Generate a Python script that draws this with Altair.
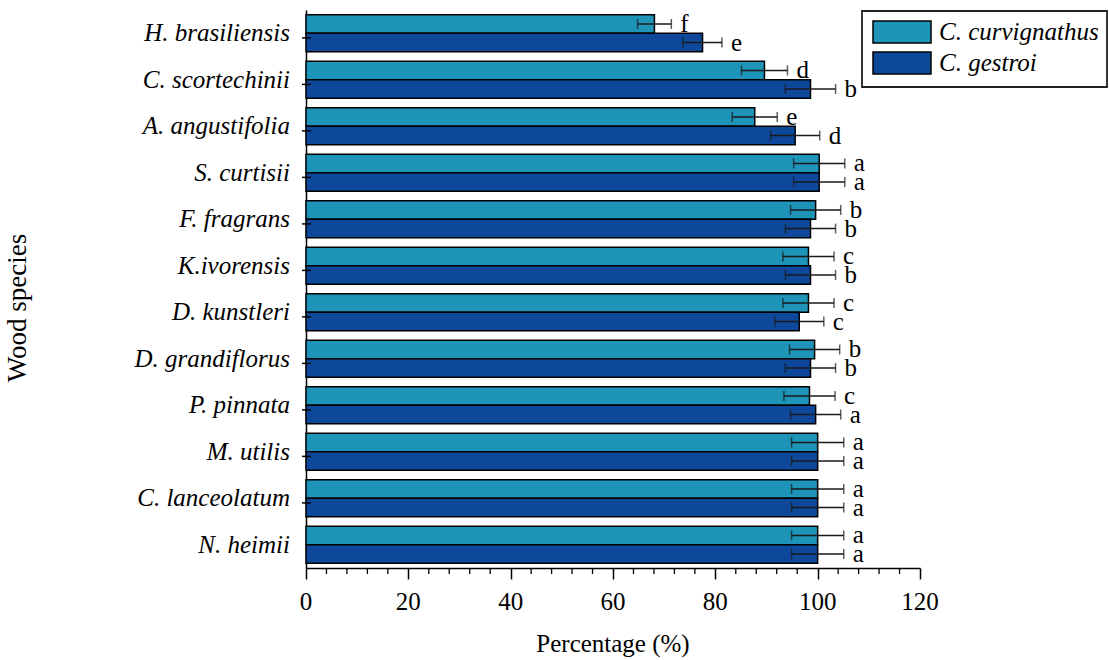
import altair as alt
import pandas as pd

# Wood species (top to bottom) and the two termite species tested
species = ["H. brasiliensis", "C. scortechinii", "A. angustifolia", "S. curtisii",
           "F. fragrans", "K.ivorensis", "D. kunstleri", "D. grandiflorus",
           "P. pinnata", "M. utilis", "C. lanceolatum", "N. heimii"]
series = ["C. curvignathus", "C. gestroi"]

# Percentage values, standard errors and significance letters per series
curv_values = [68.1, 89.6, 87.7, 100.3, 99.6, 98.2, 98.2, 99.4, 98.4, 100.0, 100.0, 100.0]
gestroi_values = [77.5, 98.6, 95.6, 100.3, 98.6, 98.6, 96.4, 98.6, 99.6, 100.0, 100.0, 100.0]
curv_err = [3.3, 4.5, 4.4, 5.0, 4.9, 5.0, 5.0, 4.9, 5.0, 5.1, 5.1, 5.1]
gestroi_err = [3.8, 4.9, 4.8, 5.0, 4.9, 4.9, 4.8, 4.9, 4.9, 5.1, 5.1, 5.1]
curv_letters = ["f", "d", "e", "a", "b", "c", "c", "b", "c", "a", "a", "a"]
gestroi_letters = ["e", "b", "d", "a", "b", "b", "c", "b", "a", "a", "a", "a"]

colors = ["#1e94b8", "#0e489b"]
x_major = [0, 20, 40, 60, 80, 100, 120]
x_minor = [4, 8, 12, 16, 24, 28, 32, 36, 44, 48, 52, 56, 64, 68, 72, 76,
           84, 88, 92, 96, 104, 108, 112, 116]

FONT = "Liberation Serif"
W, H = 614, 558
step = H / len(species)

rows = []
for name, vals, errs, lets in [(series[0], curv_values, curv_err, curv_letters),
                               (series[1], gestroi_values, gestroi_err, gestroi_letters)]:
    for sp, v, e, l in zip(species, vals, errs, lets):
        rows.append({"species": sp, "series": name, "value": v,
                     "lo": v - e, "hi": v + e, "letter": l})
df = pd.DataFrame(rows)

x_scale = alt.Scale(domain=[0, 120], nice=False)
x_axis = alt.Axis(values=x_major, title=None, labels=False, grid=False,
                  tickSize=11, tickWidth=1.5, tickColor="black",
                  domainColor="black", domainWidth=1.5)


def xq(field):
    return alt.X(f"{field}:Q", scale=x_scale, axis=x_axis, title=None)


y_enc = alt.Y("species:N", sort=species,
              scale=alt.Scale(paddingInner=0.2, paddingOuter=0.1),
              axis=alt.Axis(title=None, labels=False, ticks=False, grid=False,
                            domainColor="black", domainWidth=1.5))
y_off = alt.YOffset("series:N", sort=series, scale=alt.Scale(paddingInner=0, paddingOuter=0))

base = alt.Chart(df)

bars = base.mark_bar(stroke="black", strokeWidth=1.5).encode(
    x=xq("value"),
    y=y_enc,
    yOffset=y_off,
    color=alt.Color("series:N", sort=series,
                    scale=alt.Scale(domain=series, range=colors), legend=None),
)

# error bars with caps at both ends
err = base.mark_rule(color="#1a1a1a", strokeWidth=1.5).encode(
    x=xq("lo"), x2="hi:Q", y=y_enc, yOffset=y_off)
cap_lo = base.mark_tick(color="#1a1a1a", size=10, thickness=1.5).encode(
    x=xq("lo"), y=y_enc, yOffset=y_off)
cap_hi = base.mark_tick(color="#1a1a1a", size=10, thickness=1.5).encode(
    x=xq("hi"), y=y_enc, yOffset=y_off)

# significance letters
letters = base.mark_text(align="left", baseline="middle", dx=9, font=FONT,
                         fontSize=25, color="black").encode(
    x=xq("hi"), y=y_enc, yOffset=y_off, text="letter:N")

# category axis: tick marks at band boundaries and italic species names
sp_df = pd.DataFrame({"species": species})
y_ticks = alt.Chart(sp_df).mark_rule(color="black", strokeWidth=1.5).encode(
    y=y_enc, yOffset=alt.value(-step / 2), x=alt.value(-4), x2=alt.value(5))
y_labels = alt.Chart(sp_df).mark_text(
    align="right", baseline="middle", font=FONT, fontStyle="italic",
    fontSize=25, color="black").encode(
    y=y_enc, x=alt.value(-16), text="species:N")

# percentage axis: minor ticks, tick labels and titles
x_minor_ticks = alt.Chart(pd.DataFrame({"value": x_minor})).mark_rule(
    color="black", strokeWidth=1.3).encode(
    x=xq("value"), y=alt.value(H), y2=alt.value(H + 6))
x_labels = alt.Chart(pd.DataFrame({"value": x_major,
                                   "label": [str(v) for v in x_major]})).mark_text(
    align="center", baseline="alphabetic", font=FONT, fontSize=25, color="black").encode(
    x=xq("value"), y=alt.value(H + 42), text="label:N")

one = pd.DataFrame({"k": [0]})
x_title = alt.Chart(one).mark_text(
    align="center", baseline="alphabetic", font=FONT, fontSize=25, color="black",
    text="Percentage (%)").encode(x=alt.value(W / 2), y=alt.value(H + 84))
y_title = alt.Chart(one).mark_text(
    align="center", baseline="middle", font=FONT, fontSize=27, color="black",
    angle=270, text="Wood species").encode(x=alt.value(-288), y=alt.value(298))

# legend box with one swatch and label per series
legend_layers = [
    alt.Chart(one).mark_rect(fill="white", stroke="#222222", strokeWidth=1.8).encode(
        x=alt.value(556), x2=alt.value(801), y=alt.value(1), y2=alt.value(77))
]
for i, (name, col) in enumerate(zip(series, colors)):
    top = 11 + 31 * i
    legend_layers.append(
        alt.Chart(one).mark_rect(fill=col, stroke="black", strokeWidth=1.5).encode(
            x=alt.value(567), x2=alt.value(625), y=alt.value(top), y2=alt.value(top + 22)))
    legend_layers.append(
        alt.Chart(one).mark_text(align="left", baseline="middle", font=FONT,
                                 fontStyle="italic", fontSize=25, color="black",
                                 text=name).encode(
            x=alt.value(633), y=alt.value(top + 11)))

chart = alt.layer(bars, err, cap_lo, cap_hi, letters, y_ticks, y_labels,
                  x_minor_ticks, x_labels, x_title, y_title, *legend_layers).properties(
    width=W, height=H,
    autosize=alt.AutoSizeParams(type="none"),
    padding={"left": 306, "top": 10, "right": 189, "bottom": 92},
    background="white",
).configure_view(stroke=None)

chart.save("out.html", embed_options={"renderer": "svg", "actions": False})
